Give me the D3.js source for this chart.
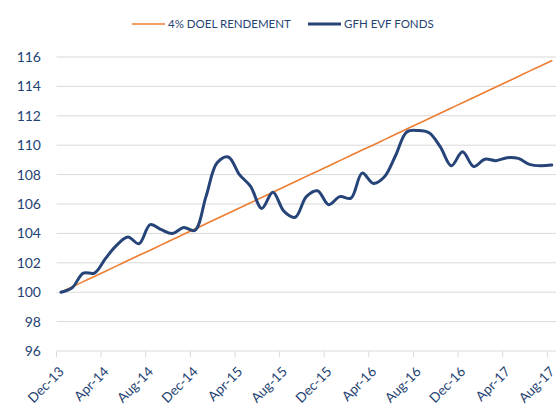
<!DOCTYPE html>
<html>
<head>
<meta charset="utf-8">
<script src="https://cdn.jsdelivr.net/npm/d3@7"></script>
<style>
  body { margin: 0; background: #fff; }
  svg { font-family: Lato, "Open Sans", sans-serif; }
</style>
</head>
<body>
<svg id="chart" width="557" height="415"></svg>
<script>
// monthly points, Dec-13 .. Aug-17
const months = ["Dec-13","Jan-14","Feb-14","Mar-14","Apr-14","May-14","Jun-14","Jul-14","Aug-14","Sep-14","Oct-14","Nov-14",
  "Dec-14","Jan-15","Feb-15","Mar-15","Apr-15","May-15","Jun-15","Jul-15","Aug-15","Sep-15","Oct-15","Nov-15",
  "Dec-15","Jan-16","Feb-16","Mar-16","Apr-16","May-16","Jun-16","Jul-16","Aug-16","Sep-16","Oct-16","Nov-16",
  "Dec-16","Jan-17","Feb-17","Mar-17","Apr-17","May-17","Jun-17","Jul-17","Aug-17"]

const doelRendement = [100, 100.36, 100.72, 101.07, 101.43, 101.79, 102.15, 102.51, 102.86, 103.22, 103.58, 103.94,
  104.3, 104.65, 105.01, 105.37, 105.73, 106.09, 106.44, 106.8, 107.16, 107.52, 107.88, 108.23,
  108.59, 108.95, 109.31, 109.67, 110.02, 110.38, 110.74, 111.1, 111.46, 111.81, 112.17, 112.53,
  112.89, 113.25, 113.6, 113.96, 114.32, 114.68, 115.04, 115.39, 115.75]

const evfFonds = [100, 100.3, 101.3, 101.3, 102.3, 103.2, 103.75, 103.3, 104.6, 104.25, 104.0, 104.4,
  104.2, 106.5, 108.8, 109.2, 108.0, 107.2, 105.7, 106.8, 105.5, 105.1, 106.5, 106.9,
  105.95, 106.5, 106.4, 108.1, 107.4, 107.85, 109.3, 110.9, 111.0, 110.85, 109.9, 108.6,
  109.55, 108.55, 109.05, 108.95, 109.15, 109.1, 108.7, 108.6, 108.65]

const tickLabels = ["Dec-13","Apr-14","Aug-14","Dec-14","Apr-15","Aug-15","Dec-15","Apr-16","Aug-16","Dec-16","Apr-17","Aug-17"]
const yTicks = [96, 98, 100, 102, 104, 106, 108, 110, 112, 114, 116]

const series = [
  { name: "4% DOEL RENDEMENT", values: doelRendement, color: "#ED7D31", width: 1.6 },
  { name: "GFH EVF FONDS", values: evfFonds, color: "#264478", width: 3 }
]

const textColor = "#1F4373"
const svg = d3.select("#chart")

const x = d3.scaleLinear().domain([0, 44]).range([56.5, 547.3])
const dataOffset = 0.4 // points sit slightly right of the month tick
const y = d3.scaleLinear().domain([96, 116]).range([351, 57])

// gridlines
svg.append("g")
    .selectAll("line")
    .data(yTicks)
    .join("line")
    .attr("x1", 56.5)
    .attr("x2", 556)
    .attr("y1", d => y(d))
    .attr("y2", d => y(d))
    .style("stroke", "#d9d9d9")
    .style("stroke-width", 1)

// y labels
svg.append("g")
    .selectAll("text")
    .data(yTicks)
    .join("text")
    .attr("x", 41)
    .attr("y", d => y(d))
    .attr("dy", "0.36em")
    .attr("text-anchor", "end")
    .style("font-size", "14px")
    .style("fill", textColor)
    .text(d => d)

// x ticks + labels
const tickIdx = tickLabels.map(l => months.indexOf(l))
svg.append("g")
    .selectAll("line")
    .data(tickIdx)
    .join("line")
    .attr("x1", d => x(d))
    .attr("x2", d => x(d))
    .attr("y1", 351)
    .attr("y2", 357)
    .style("stroke", "#d9d9d9")
    .style("stroke-width", 1)

svg.append("g")
    .selectAll("text")
    .data(tickIdx)
    .join("text")
    .attr("transform", d => `translate(${x(d) + 5},${369}) rotate(-45)`)
    .attr("text-anchor", "end")
    .attr("dy", "0.35em")
    .style("font-size", "13.5px")
    .style("fill", textColor)
    .text(d => months[d])

// lines
const line = d3.line()
    .x((d, i) => x(i + dataOffset))
    .y(d => y(d))
    .curve(d3.curveCatmullRom.alpha(0.5))

svg.append("g")
    .selectAll("path")
    .data(series)
    .join("path")
    .attr("d", d => line(d.values))
    .style("fill", "none")
    .style("stroke", d => d.color)
    .style("stroke-width", d => d.width)
    .style("stroke-linejoin", "round")
    .style("stroke-linecap", "round")

// legend
const legendX = [132, 308]
const legend = svg.append("g")
    .selectAll("g")
    .data(series)
    .join("g")
    .attr("transform", (d, i) => `translate(${legendX[i]},24)`)

legend.append("line")
    .attr("x1", 0)
    .attr("x2", 33)
    .style("stroke", d => d.color)
    .style("stroke-width", d => d.width)

legend.append("text")
    .attr("x", 36)
    .attr("dy", "0.35em")
    .style("font-size", "11.5px")
    .style("fill", textColor)
    .text(d => d.name)
</script>
</body>
</html>
